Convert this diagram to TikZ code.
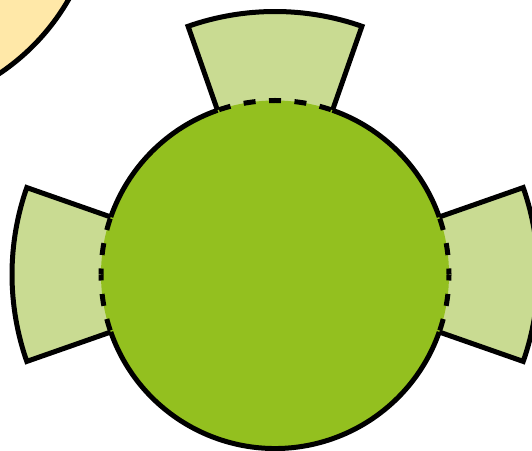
\documentclass[tikz,border=0pt]{standalone}
\definecolor{yel}{HTML}{FFE8A8}
\definecolor{tabg}{HTML}{C9DB92}
\definecolor{grn}{HTML}{93C01F}
\tikzset{
  tabbox/.style={fill=tabg,draw=black},
  solidedge/.style={draw=black},
  dashedge/.style={draw=black,dash pattern=on 12pt off 13.5pt,dash phase=6pt}
}
\begin{document}
\begin{tikzpicture}[x=1pt,y=1pt,line width=5pt,line join=miter]
\useasboundingbox (0,0) rectangle (532,450);
\clip (0,0) rectangle (532,450);
\filldraw[fill=yel,draw=black] (-124,561) circle (222);
\begin{scope}[shift={(275,175.5)}]
  \foreach \a in {0,90,180} {
    \filldraw[tabbox] (\a-19.3:263) arc[start angle=\a-19.3,end angle=\a+19.3,radius=263]
      -- (\a+19.3:150) -- (\a-19.3:150) -- cycle;
  }
  \fill[grn] (0,0) circle (174);
  \draw[solidedge] (19.3:174) arc[start angle=19.3,end angle=70.7,radius=174];
  \draw[solidedge] (109.3:174) arc[start angle=109.3,end angle=160.7,radius=174];
  \draw[solidedge] (199.3:174) arc[start angle=199.3,end angle=340.7,radius=174];
  \foreach \a in {0,90,180} {
    \draw[dashedge] (\a:174) arc[start angle=\a,end angle=\a+19.3,radius=174];
    \draw[dashedge] (\a:174) arc[start angle=\a,end angle=\a-19.3,radius=174];
  }
\end{scope}
\end{tikzpicture}
\end{document}
